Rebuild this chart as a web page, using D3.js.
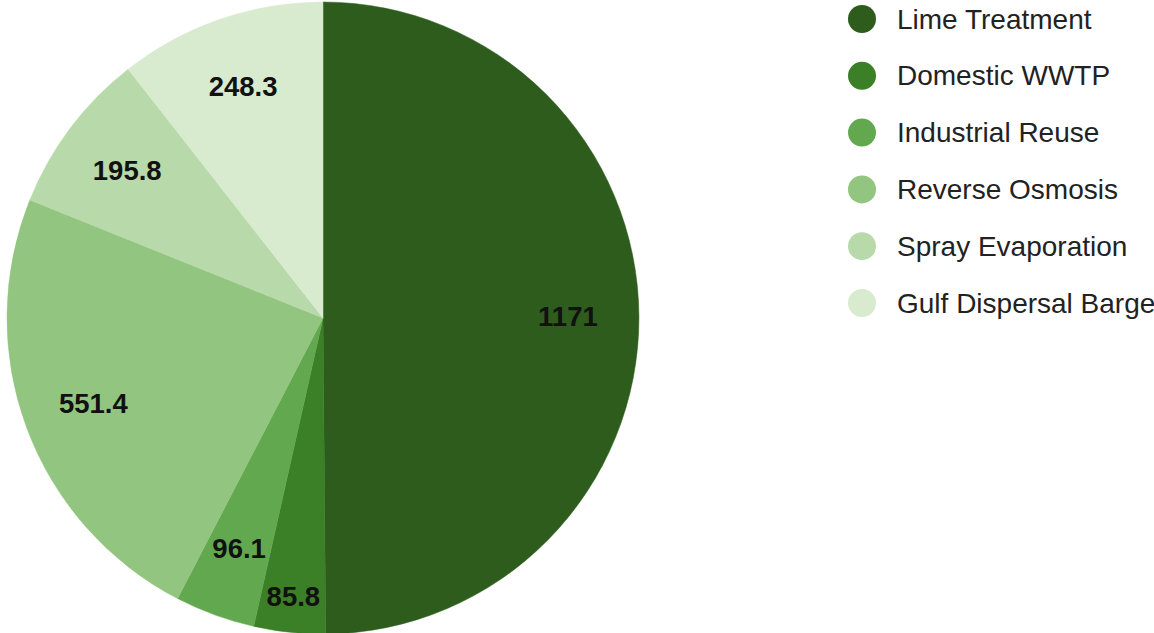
<!DOCTYPE html>
<html lang="en">
  <head>
    <meta charset="UTF-8" />
    <title>Pie</title>
    <script src="https://d3js.org/d3.v7.min.js"></script>
    <style>
      body {
        margin: 0;
        background: #fff;
        font-family: Arial, 'Liberation Sans', sans-serif;
      }
    </style>
  </head>
  <body>
    <div id="chart"></div>
    <script>
      // Data
      const categories = [
        'Lime Treatment',
        'Domestic WWTP',
        'Industrial Reuse',
        'Reverse Osmosis',
        'Spray Evaporation',
        'Gulf Dispersal Barge',
      ];
      const values = [1171, 85.8, 96.1, 551.4, 195.8, 248.3];
      const labels = ['1171', '85.8', '96.1', '551.4', '195.8', '248.3'];
      const colors = ['#2d5c1c', '#3b7f27', '#62a84e', '#92c57f', '#b8d9a9', '#d8ebcf'];

      const width = 1154;
      const height = 633;
      const cx = 323;
      const cy = 318;
      const radius = 316;

      const svg = d3
        .select('#chart')
        .append('svg')
        .attr('width', width)
        .attr('height', height);

      const data = categories.map((c, i) => ({ name: c, value: values[i], label: labels[i] }));

      const pie = d3.pie().sort(null).value((d) => d.value);
      const arcs = pie(data);
      const arc = d3.arc().innerRadius(0).outerRadius(radius);

      const color = d3.scaleOrdinal().domain(categories).range(colors);

      const g = svg.append('g').attr('transform', `translate(${cx},${cy})`);

      g.selectAll('path')
        .data(arcs)
        .join('path')
        .attr('d', arc)
        .attr('fill', (d) => color(d.data.name))
        .attr('stroke', (d) => color(d.data.name))
        .attr('stroke-width', 0.5);

      // labels: narrow slices get pushed further out
      g.selectAll('text')
        .data(arcs)
        .join('text')
        .attr('transform', (d) => {
          const r = d.endAngle - d.startAngle < 0.24 ? radius * 0.885 : radius * 0.775;
          const a = (d.startAngle + d.endAngle) / 2;
          return `translate(${r * Math.sin(a)},${-r * Math.cos(a)})`;
        })
        .attr('text-anchor', 'middle')
        .attr('dominant-baseline', 'central')
        .attr('font-size', 27.5)
        .attr('font-weight', 'bold')
        .attr('fill', '#111')
        .text((d) => d.data.label);

      // legend
      const legendY = d3.scalePoint().domain(categories).range([19, 303]);
      const legend = svg
        .append('g')
        .selectAll('g')
        .data(categories)
        .join('g')
        .attr('transform', (d) => `translate(862,${legendY(d)})`);

      legend
        .append('circle')
        .attr('r', 14)
        .attr('fill', (d) => color(d));

      legend
        .append('text')
        .attr('x', 35)
        .attr('dominant-baseline', 'central')
        .attr('font-size', 28)
        .attr('fill', '#222')
        .text((d) => d);
    </script>
  </body>
</html>
